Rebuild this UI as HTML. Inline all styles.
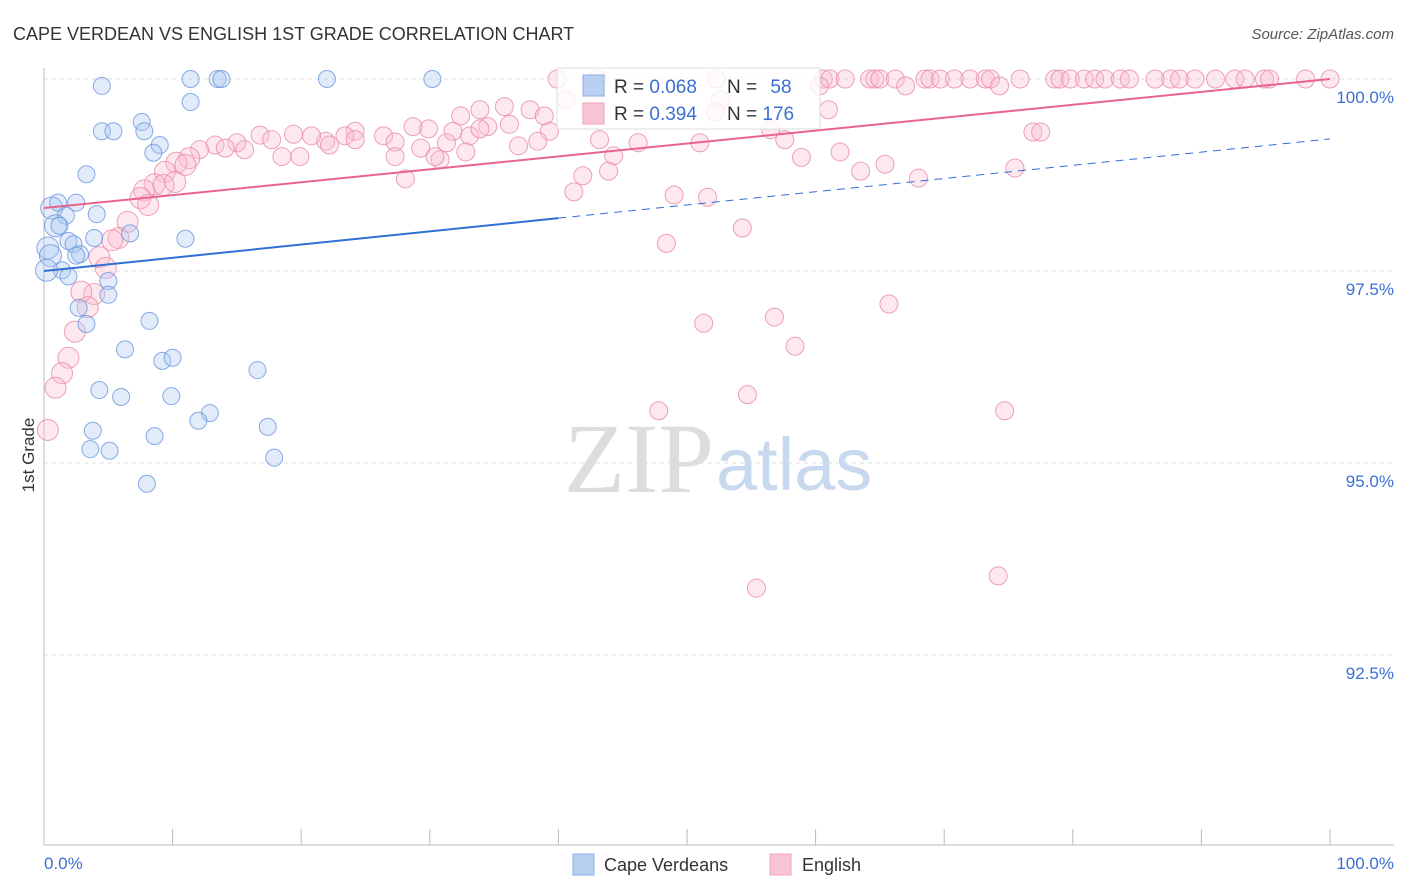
<!DOCTYPE html>
<html><head><meta charset="utf-8"><style>
body{margin:0;background:#fff;font-family:"Liberation Sans",sans-serif;}
svg{display:block}
</style></head><body>
<svg id="chart" width="1406" height="892">
<text x="13" y="40" font-size="18" fill="#333">CAPE VERDEAN VS ENGLISH 1ST GRADE CORRELATION CHART</text>
<text x="1394" y="39" font-size="15" fill="#555" font-style="italic" text-anchor="end">Source: ZipAtlas.com</text>
<text x="714" y="492" font-size="100" fill="#ddd" text-anchor="end" font-family="Liberation Serif,serif">ZIP</text>
<text x="716" y="490" font-size="74" fill="#c8d8ee">atlas</text>
<g id="grid"></g><g id="axes"></g><g id="pts"></g><g id="trend"></g>
<text x="34" y="455" font-size="17" fill="#333" transform="rotate(-90 34 455)" text-anchor="middle">1st Grade</text>
<text x="44" y="869" font-size="17" fill="#3b6fd4">0.0%</text>
<text x="1394" y="869" font-size="17" fill="#3b6fd4" text-anchor="end">100.0%</text>
<g>
<rect x="573" y="854" width="21" height="21" fill="#b9d0f2" stroke="#8aaee6"/>
<text x="604" y="871" font-size="18" fill="#333">Cape Verdeans</text>
<rect x="770" y="854" width="21" height="21" fill="#f8c4d3" stroke="#eea4ba"/>
<text x="802" y="871" font-size="18" fill="#333">English</text>
</g>
<g>
<rect x="557" y="68" width="263" height="61" fill="#fff" fill-opacity="0.8" stroke="#ddd"/>
<rect x="583" y="75" width="21" height="21" fill="#b9d0f2" stroke="#8aaee6"/>
<rect x="583" y="103" width="21" height="21" fill="#f8c4d3" stroke="#eea4ba"/>
<text x="614" y="93" font-size="19" fill="#333">R = <tspan fill="#3b6fd4">0.068</tspan></text>
<text x="727" y="93" font-size="19" fill="#333">N = <tspan fill="#3b6fd4" dx="8">58</tspan></text>
<text x="614" y="120" font-size="19" fill="#333">R = <tspan fill="#3b6fd4">0.394</tspan></text>
<text x="727" y="120" font-size="19" fill="#333">N = <tspan fill="#3b6fd4">176</tspan></text>
</g>
</svg>
<script>
const yTicks=[100,97.5,95,92.5];
const yTickLabels=["100.0%","97.5%","95.0%","92.5%"];
const blueX=[4.5,11.4,13.5,13.8,22.0,30.2,11.4,7.6,4.5,5.4,7.8,9.0,8.5,3.3,0.6,1.1,2.5,1.7,4.1,0.9,1.2,6.7,3.9,11.0,1.9,2.3,0.3,0.5,2.8,2.5,1.4,1.9,0.2,5.0,5.0,2.7,3.3,8.2,6.3,9.2,10.0,16.6,4.3,6.0,9.9,12.9,12.0,3.8,8.6,17.4,3.6,5.1,17.9,8.0];
const blueY=[99.91,100,100,100,100,100,99.70,99.44,99.32,99.32,99.32,99.14,99.04,98.76,98.32,98.39,98.39,98.22,98.24,98.09,98.09,97.99,97.93,97.92,97.89,97.85,97.80,97.70,97.72,97.70,97.51,97.43,97.51,97.37,97.19,97.02,96.81,96.85,96.48,96.33,96.37,96.21,95.95,95.86,95.87,95.65,95.55,95.42,95.35,95.47,95.18,95.16,95.07,94.73];
const pinkTopX=[39.9,43.0,52.3,60.6,61.1,62.3,64.2,64.6,65.0,66.2,68.5,68.9,69.7,70.8,72.0,73.2,73.6,75.9,78.6,79.0,79.8,80.9,81.7,82.5,83.7,84.4,86.4,87.6,88.3,89.5,91.1,92.6,93.4,94.9,95.3,98.1,100];
const pinkX=[42.8,40.6,52.6,52.2,42.5,61.0,67.0,74.3,60.3,35.8,37.8,38.9,33.9,32.4,34.5,36.2,39.3,31.8,29.9,28.7,33.1,31.3,38.4,36.9,33.9,24.2,26.4,23.4,21.9,19.4,20.8,16.8,15.0,13.3,12.1,11.3,10.3,9.4,8.6,7.8,15.6,18.5,19.9,22.2,24.2,27.3,27.3,29.3,30.8,30.4,32.8,28.1,17.7,14.1,43.2,46.2,51.0,56.5,57.6,44.3,58.9,61.9,65.4,63.5,68.0,75.5,76.9,77.5,41.9,43.9,41.2,49.0,51.6,54.3,48.4,51.3,56.8,65.7,58.4,47.8,54.7,74.7,55.4,74.2,7.5,8.1,9.3,10.2,11.0,6.5,5.8,5.3,4.3,4.8,3.9,2.9,3.4,2.4,1.9,1.4,0.9,0.3];
const pinkY=[99.77,99.73,99.73,99.57,99.57,99.60,99.91,99.91,99.91,99.64,99.60,99.52,99.60,99.52,99.38,99.41,99.32,99.32,99.35,99.38,99.26,99.17,99.19,99.13,99.35,99.32,99.26,99.26,99.19,99.28,99.26,99.27,99.17,99.14,99.08,98.97,98.91,98.79,98.63,98.55,99.08,98.99,98.99,99.14,99.21,99.18,98.99,99.10,98.95,98.99,99.05,98.70,99.21,99.10,99.21,99.17,99.17,99.34,99.21,99.00,98.98,99.05,98.89,98.80,98.71,98.84,99.31,99.31,98.74,98.80,98.53,98.49,98.46,98.06,97.86,96.82,96.90,97.07,96.52,95.68,95.89,95.68,93.37,93.53,98.45,98.36,98.62,98.66,98.88,98.14,97.93,97.90,97.68,97.54,97.20,97.23,97.03,96.71,96.37,96.17,95.98,95.43];
const blueTrend=[97.5,99.22];
const pinkTrend=[98.32,100];
const X0=44,X1=1330,YT=79,PXPER=76.8;
const sx=v=>X0+(X1-X0)*v/100;
const sy=v=>YT+(100-v)*PXPER;
const NS="http://www.w3.org/2000/svg";
function mk(tag,attrs,parent){const e=document.createElementNS(NS,tag);for(const k in attrs)e.setAttribute(k,attrs[k]);parent.appendChild(e);return e;}
const grid=document.getElementById('grid'),axes=document.getElementById('axes'),pts=document.getElementById('pts'),trend=document.getElementById('trend');
yTicks.forEach((t,i)=>{
 const l=mk('line',{x1:X0,x2:1394,y1:sy(t),y2:sy(t),stroke:'#ddd','stroke-dasharray':'4,4'},grid);
 
 
 const tx=mk('text',{x:1394,y:sy(t)+24,'font-size':17,fill:'#3b6fd4','text-anchor':'end'},grid);
 tx.textContent=yTickLabels[i];
 
 
});
const ax=mk('line',{x1:X0,x2:1394,y1:845,y2:845,stroke:'#bbb'},axes);


const ay=mk('line',{x1:X0,x2:X0,y1:68,y2:845,stroke:'#bbb'},axes);


for(let i=0;i<=10;i++){const t=mk('line',{x1:sx(i*10),x2:sx(i*10),y1:829,y2:845,stroke:'#bbb'},axes);
 
 }
function dot(x,y,cls,fill,stroke,r){const c=mk('circle',{cx:sx(x),cy:sy(y),r:r,fill:fill,'fill-opacity':0.35,stroke:stroke,'stroke-width':1,'stroke-opacity':0.8},pts);
 
 }
pinkTopX.forEach(x=>dot(x,100,'english-point','#f8bccd','#e88aa6',9));
pinkX.forEach((x,i)=>dot(x,pinkY[i],'english-point','#f8bccd','#e88aa6',x<12?10.5:9));
blueX.forEach((x,i)=>dot(x,blueY[i],'cape-verdean-point','#a9c6f0','#6a96de',x<1?11:8.5));
const bmid=blueTrend[0]+(blueTrend[1]-blueTrend[0])*0.4;
const b1=mk('line',{x1:sx(0),y1:sy(blueTrend[0]),x2:sx(40),y2:sy(bmid),stroke:'#2f6fd6','stroke-width':2},trend);


const b2=mk('line',{x1:sx(40),y1:sy(bmid),x2:sx(100),y2:sy(blueTrend[1]),stroke:'#2f6fd6','stroke-width':1,'stroke-dasharray':'8,6'},trend);


const p1=mk('line',{x1:sx(0),y1:sy(pinkTrend[0]),x2:sx(100),y2:sy(pinkTrend[1]),stroke:'#e8648e','stroke-width':2},trend);


</script>
</body></html>
